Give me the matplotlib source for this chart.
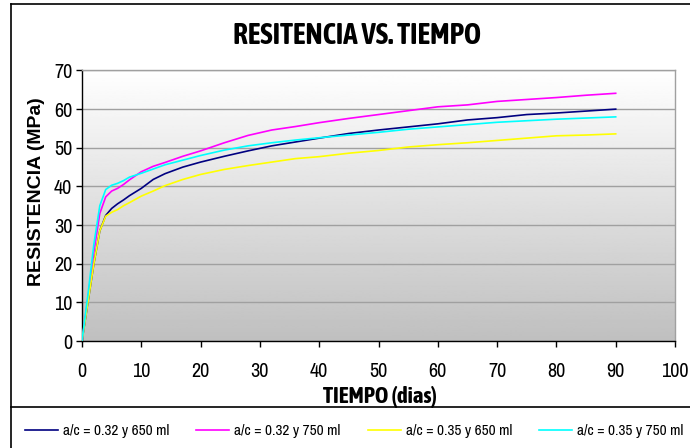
import numpy as np
import matplotlib
matplotlib.use("Agg")
import matplotlib.pyplot as plt
from matplotlib import font_manager
from matplotlib.lines import Line2D

# narrow sans for the regular texts; bold narrow only if it exists
fuentes = font_manager.fontManager.ttflist
names = sorted({f.name for f in fuentes})
ancha = "Liberation Sans" if "Liberation Sans" in names else "DejaVu Sans"
angostas = [n for n in names if "Narrow" in n or "Condensed" in n]
if angostas:
    fuente, k = angostas[0], 1.0
else:
    fuente, k = ancha, 0.82
negritas = [f.name for f in fuentes if f.name in angostas and
            (f.weight == "bold" or (isinstance(f.weight, int) and f.weight >= 600))]
if negritas:
    fuente_b, kb = negritas[0], 1.0
else:
    fuente_b, kb = ancha, 0.82

dias = [0, 1, 2, 3, 4, 5, 6, 7, 8, 10, 12, 14, 17, 20, 24, 28, 32, 36, 40,
        45, 50, 55, 60, 65, 70, 75, 80, 85, 90]

r_032_650 = [0, 10, 20, 28.5, 32.5, 34.3, 35.5, 36.5, 37.6, 39.5, 41.8, 43.3,
             45.0, 46.3, 47.8, 49.2, 50.5, 51.5, 52.5, 53.7, 54.6, 55.4, 56.2,
             57.2, 57.8, 58.6, 59.0, 59.5, 60.0]
r_032_750 = [0, 11, 23, 33, 37.3, 38.8, 39.5, 40.5, 41.7, 43.8, 45.2, 46.2,
             47.8, 49.2, 51.3, 53.2, 54.6, 55.5, 56.5, 57.6, 58.6, 59.6, 60.6,
             61.1, 62.0, 62.5, 63.0, 63.6, 64.1]
r_035_650 = [0, 10, 20, 28.5, 32.3, 33.3, 34.0, 35.0, 35.8, 37.5, 38.8, 40.2,
             41.8, 43.1, 44.4, 45.4, 46.3, 47.2, 47.7, 48.6, 49.3, 50.2, 50.8,
             51.3, 51.9, 52.5, 53.1, 53.3, 53.6]
r_035_750 = [0, 12, 25, 35, 39.2, 40.3, 40.8, 41.5, 42.4, 43.4, 44.5, 45.6,
             46.8, 48.0, 49.4, 50.5, 51.3, 52.0, 52.6, 53.3, 54.0, 54.8, 55.4,
             56.0, 56.6, 57.0, 57.4, 57.7, 58.0]

series = [r_032_650, r_032_750, r_035_650, r_035_750]
etiquetas = ["a/c = 0.32 y 650 ml", "a/c = 0.32 y 750 ml",
             "a/c = 0.35 y 650 ml", "a/c = 0.35 y 750 ml"]
colores = ["#000080", "#FF00FF", "#FFFF00", "#00FFFF"]

fig = plt.figure(figsize=(6.9, 4.48), dpi=100)
ax = fig.add_axes([82 / 690, 107 / 448, 593 / 690, 270.5 / 448])

# fondo degradado: gris abajo, blanco arriba
grad = np.linspace(0, 1, 256).reshape(-1, 1)
ax.imshow(grad, extent=[0, 100, 0, 70], aspect="auto", cmap="gray",
          vmin=-3.0, vmax=1.0, origin="lower", zorder=0)
ax.set_xlim(0, 100)
ax.set_ylim(0, 70)

ax.yaxis.grid(True, color="#a0a0a0", linewidth=1.0)
for g in ax.get_ygridlines():
    g.set_zorder(1)

lineas = []
for y, lab, c in zip(series, etiquetas, colores):
    l, = ax.plot(dias, y, color=c, linewidth=1.2, label=lab, zorder=3)
    lineas.append(l)

ax.set_xticks(range(0, 101, 10))
ax.set_yticks(range(0, 71, 10))
ax.tick_params(direction="out", length=4, width=1, colors="black")
ax.tick_params(axis="x", pad=11)
ax.tick_params(axis="y", pad=3)
for t in ax.get_xticklabels() + ax.get_yticklabels():
    t.set_fontfamily(fuente)
    t.set_fontsize(14.5 * k)

ax.spines["left"].set_color("black")
ax.spines["bottom"].set_color("black")
ax.spines["top"].set_color("#a0a0a0")
ax.spines["right"].set_color("#a0a0a0")
for s in ax.spines.values():
    s.set_linewidth(1.0)

fig.text(357 / 690, 1 - 35 / 448, "RESITENCIA VS. TIEMPO", ha="center",
         va="center", fontsize=21 * kb, fontweight="bold", family=fuente_b)
fig.text(380 / 690, 1 - 397 / 448, "TIEMPO (dias)", ha="center",
         va="center", fontsize=16.5 * kb, fontweight="bold", family=fuente_b)
fig.text(37 / 690, 1 - 192 / 448, "RESISTENCIA (MPa)", ha="center",
         va="center", rotation=90, fontsize=14, fontweight="bold",
         family=ancha)

# marco del gráfico y caja de la leyenda
fig.add_artist(Line2D([11 / 690, 1.0], [1 - 4 / 448] * 2, color="black",
                      linewidth=1.2))
fig.add_artist(Line2D([11 / 690] * 2, [0, 1 - 4 / 448], color="black",
                      linewidth=1.2))
fig.add_artist(Line2D([11 / 690, 1.0], [1 - 407 / 448] * 2, color="black",
                      linewidth=1.2))

fs_ley = 11 * k
px = fs_ley / 0.72
fig.legend(lineas, etiquetas, loc="center left",
           bbox_to_anchor=(25 / 690, 1 - 431 / 448), ncol=4, frameon=False,
           handlelength=33 / px, handletextpad=5 / px,
           columnspacing=27 / px,
           prop=font_manager.FontProperties(family=fuente, size=fs_ley),
           borderaxespad=0, borderpad=0)

fig.savefig("out.png", dpi=100)
